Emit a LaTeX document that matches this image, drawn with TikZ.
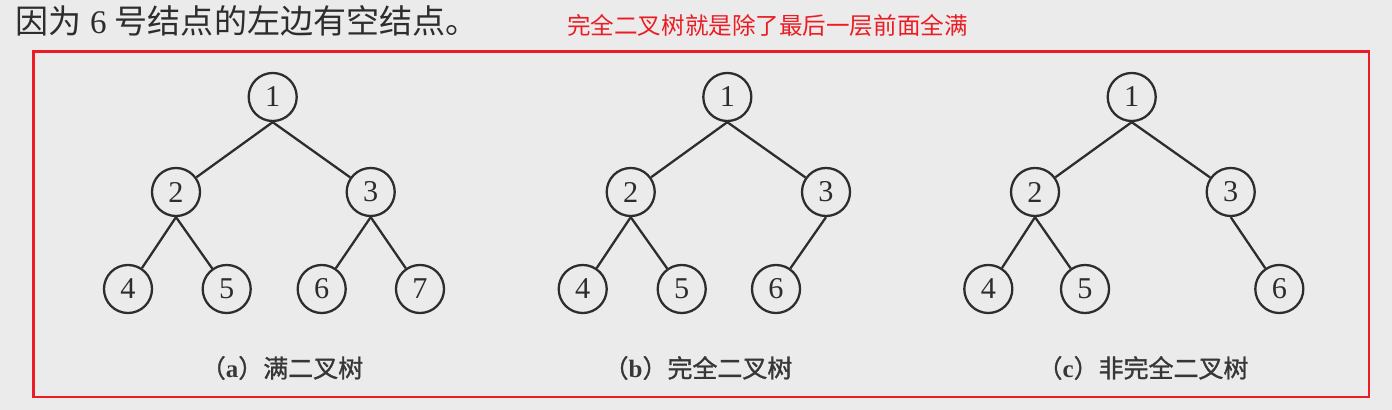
\documentclass[tikz,border=0pt]{standalone}
\usepackage{fontspec}
\setmainfont{Liberation Serif}
\newfontfamily\cjk{Noto Sans CJK SC}
\newfontfamily\cjkcap[FakeBold=1.2]{Noto Sans CJK SC}
\definecolor{bg}{RGB}{235,235,235}
\definecolor{ink}{RGB}{45,45,45}
\definecolor{capcol}{RGB}{55,55,55}
\definecolor{redc}{RGB}{236,28,36}
\begin{document}
\begin{tikzpicture}[x=0.01cm,y=-0.01cm,
  nd/.style={circle,draw=ink,line width=0.65pt,minimum size=0.48cm,inner sep=0pt,
             font=\fontsize{8.6}{9}\selectfont,text=ink},
  link/.style={draw=ink,line width=0.65pt},
  captxt/.style={font=\fontsize{7.1}{8}\selectfont\cjkcap,text=capcol,inner sep=0pt},
  redframe/.style={draw=redc,line width=0.7pt}]
\fill[bg] (0,0) rectangle (1392,410);
\useasboundingbox (0,0) rectangle (1392,410);

% header texts
\node[anchor=west,inner sep=0pt,text=ink,font=\fontsize{9.4}{10}\selectfont] (head) at (15,21)
  {{\cjk 因为} 6 {\cjk 号结点的左边有空结点。}};
\node[inner sep=0pt,text=redc,font=\fontsize{6.7}{8}\selectfont\cjk] (note) at (767.5,26)
  {完全二叉树就是除了最后一层前面全满};

% frame
\draw[redframe] (33.5,51.5) rectangle (1369,397);

% tree (a)
\node[nd] (a1) at (272.7,97) {1};
\node[nd] (a2) at (176,192) {2};
\node[nd] (a3) at (370.7,192) {3};
\node[nd] (a4) at (128,289) {4};
\node[nd] (a5) at (226.7,289) {5};
\node[nd] (a6) at (321.7,289) {6};
\node[nd] (a7) at (420,289) {7};
\draw[link] (a1.south) -- (a2);
\draw[link] (a1.south) -- (a3);
\draw[link] (a2.south) -- (a4);
\draw[link] (a2.south) -- (a5);
\draw[link] (a3.south) -- (a6);
\draw[link] (a3.south) -- (a7);
\node[captxt] (capa) at (282,368) {（{\rmfamily\bfseries a}）满二叉树};

% tree (b)
\node[nd] (b1) at (727.3,97) {1};
\node[nd] (b2) at (630.7,192) {2};
\node[nd] (b3) at (826,192) {3};
\node[nd] (b4) at (582.7,289) {4};
\node[nd] (b5) at (681.7,289) {5};
\node[nd] (b6) at (776,289) {6};
\draw[link] (b1.south) -- (b2);
\draw[link] (b1.south) -- (b3);
\draw[link] (b2.south) -- (b4);
\draw[link] (b2.south) -- (b5);
\draw[link] (b3.south) -- (b6);
\node[captxt] (capb) at (698,368) {（{\rmfamily\bfseries b}）完全二叉树};

% tree (c)
\node[nd] (c1) at (1131.7,97) {1};
\node[nd] (c2) at (1035,192) {2};
\node[nd] (c3) at (1230.7,192) {3};
\node[nd] (c4) at (988.3,289) {4};
\node[nd] (c5) at (1085,289) {5};
\node[nd] (c6) at (1279.3,289) {6};
\draw[link] (c1.south) -- (c2);
\draw[link] (c1.south) -- (c3);
\draw[link] (c2.south) -- (c4);
\draw[link] (c2.south) -- (c5);
\draw[link] (c3.south) -- (c6);
\node[captxt] (capc) at (1143,368) {（{\rmfamily\bfseries c}）非完全二叉树};
\end{tikzpicture}
\end{document}
